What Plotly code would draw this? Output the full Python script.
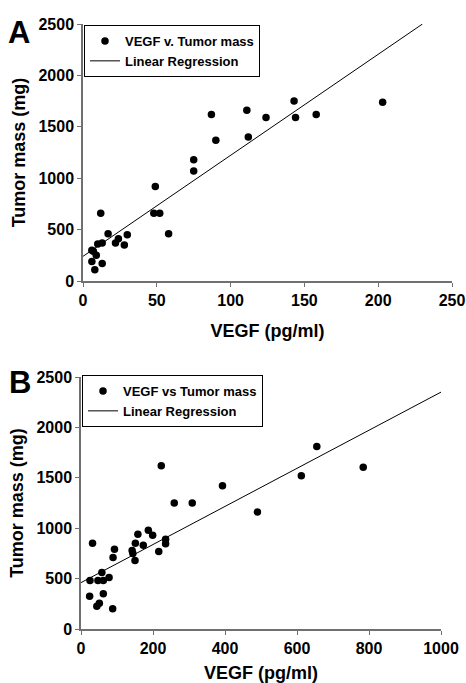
import plotly.graph_objects as go

# Panel A data: VEGF (pg/ml) vs tumor mass (mg)
a_vegf = [87, 90, 75, 75, 49, 48, 52, 58, 12, 17, 30, 24, 22, 28, 13, 10, 6, 7, 9, 6, 13, 8,
          111, 112, 124, 143, 144, 158, 203]
a_mass = [1620, 1370, 1180, 1070, 920, 660, 660, 460, 660, 460, 450, 410, 370, 350, 370, 360,
          300, 290, 250, 190, 170, 110, 1660, 1400, 1590, 1750, 1590, 1620, 1740]
a_fit_x = [0, 230]
a_fit_y = [240, 2500]
a_xticks = [0, 50, 100, 150, 200, 250]

# Panel B data
b_vegf = [223, 393, 259, 309, 32, 158, 187, 199, 151, 173, 142, 144, 150, 216, 235, 235, 93,
          89, 58, 25, 47, 62, 78, 24, 62, 51, 44, 88, 655, 612, 784, 490]
b_mass = [1620, 1420, 1250, 1250, 850, 940, 980, 930, 850, 830, 780, 750, 680, 770, 890, 845,
          790, 710, 560, 480, 480, 480, 510, 325, 350, 255, 225, 200, 1810, 1520, 1605, 1160]
b_fit_x = [0, 1000]
b_fit_y = [460, 2350]
b_xticks = [0, 200, 400, 600, 800, 1000]

y_ticks = [0, 500, 1000, 1500, 2000, 2500]

W, H = 466, 683
FONT = "Liberation Sans, Arial, sans-serif"


def b(s):
    return f"<b>{s}</b>"


fig = go.Figure()
fig.add_trace(go.Scatter(x=a_vegf, y=a_mass, mode="markers", name=b("VEGF v. Tumor mass"),
                         marker=dict(color="black", size=7.5), xaxis="x", yaxis="y", legend="legend"))
fig.add_trace(go.Scatter(x=a_fit_x, y=a_fit_y, mode="lines", name=b("Linear Regression"),
                         line=dict(color="black", width=1), xaxis="x", yaxis="y", legend="legend"))
fig.add_trace(go.Scatter(x=b_vegf, y=b_mass, mode="markers", name=b("VEGF vs Tumor mass"),
                         marker=dict(color="black", size=7.5), xaxis="x2", yaxis="y2", legend="legend2"))
fig.add_trace(go.Scatter(x=b_fit_x, y=b_fit_y, mode="lines", name=b("Linear Regression"),
                         line=dict(color="black", width=1), xaxis="x2", yaxis="y2", legend="legend2"))

tickfont = dict(family=FONT, size=16, color="black")
titlefont = dict(family=FONT, size=18, color="black")
axcommon = dict(showgrid=False, zeroline=False, showline=True, linecolor="#707070", linewidth=1.5,
                ticks="outside", ticklen=4, tickcolor="#707070", tickwidth=1, tickfont=tickfont,
                automargin=False)


def px2x(p):
    return p / W


def px2y(p):
    return 1 - p / H


legfont = dict(family=FONT, size=13, color="black")

fig.update_layout(
    width=W, height=H, margin=dict(l=0, r=0, t=0, b=0),
    paper_bgcolor="white", plot_bgcolor="white",
    xaxis=dict(domain=[px2x(83), px2x(452)], range=[0, 250], tickvals=a_xticks,
               ticktext=[b(v) for v in a_xticks],
               anchor="y", title=dict(text=b("VEGF (pg/ml)"), font=titlefont, standoff=16), **axcommon),
    yaxis=dict(domain=[px2y(281), px2y(24)], range=[0, 2500], tickvals=y_ticks,
               ticktext=[b(v) for v in y_ticks],
               anchor="x", title=dict(text=b("Tumor mass (mg)"), font=titlefont, standoff=8), **axcommon),
    xaxis2=dict(domain=[px2x(81), px2x(441)], range=[0, 1000], tickvals=b_xticks,
                ticktext=[b(v) for v in b_xticks],
                anchor="y2", title=dict(text=b("VEGF (pg/ml)"), font=titlefont, standoff=16), **axcommon),
    yaxis2=dict(domain=[px2y(629), px2y(377)], range=[0, 2500], tickvals=y_ticks,
                ticktext=[b(v) for v in y_ticks],
                anchor="x2", title=dict(text=b("Tumor mass (mg)"), font=titlefont, standoff=8), **axcommon),
    legend=dict(x=px2x(84), y=px2y(25), xanchor="left", yanchor="top", bgcolor="white",
                bordercolor="black", borderwidth=1, font=legfont),
    legend2=dict(x=px2x(82), y=px2y(375), xanchor="left", yanchor="top", bgcolor="white",
                 bordercolor="black", borderwidth=1, font=legfont),
    annotations=[
        dict(text=b("A"), x=px2x(6), y=px2y(13), xref="paper", yref="paper", xanchor="left", yanchor="top",
             showarrow=False, font=dict(family=FONT, size=31, color="black")),
        dict(text=b("B"), x=px2x(7), y=px2y(363), xref="paper", yref="paper", xanchor="left", yanchor="top",
             showarrow=False, font=dict(family=FONT, size=31, color="black")),
    ],
)

fig.write_html(
    "out.html",
    config={"displayModeBar": False},
    post_script="document.body.style.margin='0';document.documentElement.style.overflow='hidden';",
)
